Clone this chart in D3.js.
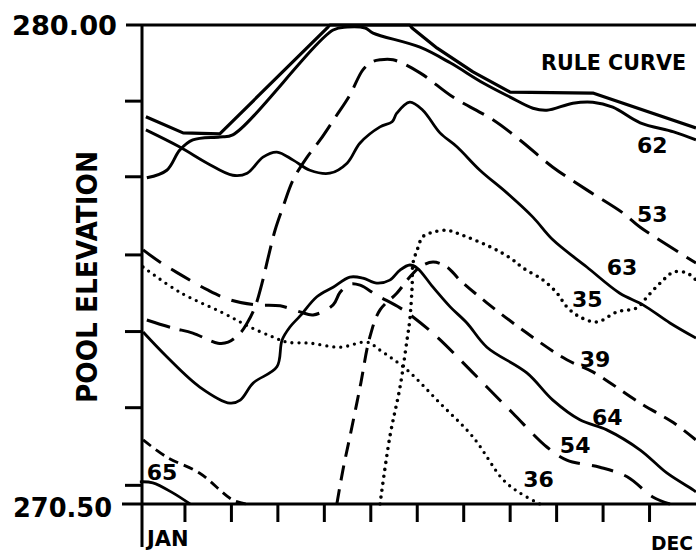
<!DOCTYPE html>
<html>
<head>
<meta charset="utf-8">
<script src="https://cdn.jsdelivr.net/npm/d3@7"></script>
<style>
body { margin: 0; background: #fff; }
svg { display: block; background: #fff; }
text { font-family: "DejaVu Sans", sans-serif; font-weight: bold; fill: #000; }
</style>
</head>
<body>
<svg width="696" height="553"></svg>
<script>
// each point: [months from start of JAN, pool elevation (ft)]
var ruleCurve = [[0.17,278.18],[0.97,277.86],[1.76,277.84],[4.09,279.96],[4.13,280.00],[5.85,280.00],[5.90,279.94],
	[6.44,279.54],[7.21,279.07],[8.01,278.67],[9.79,278.65],[12.01,277.96]];
var yr62 = [[0.19,276.97],[0.62,277.12],[0.90,277.52],[1.18,277.72],[1.76,277.78],[2.04,277.82],[4.20,279.90],[4.50,279.96],
	[4.89,279.94],[5.06,279.84],[6.07,279.56],[6.72,279.25],[7.43,278.85],[8.01,278.57],[8.50,278.35],[8.80,278.31],
	[9.36,278.45],[9.79,278.47],[10.22,278.37],[10.81,278.06],[11.53,277.88],[12.01,277.72]];
var yr63 = [[0.17,277.92],[0.90,277.58],[1.49,277.26],[2.04,277.02],[2.35,277.06],[2.69,277.38],[2.99,277.48],[3.34,277.32],
	[3.70,277.12],[4.13,277.06],[4.50,277.26],[4.78,277.66],[5.21,277.98],[5.47,278.08],[5.57,278.25],[5.85,278.47],
	[6.13,278.31],[6.50,277.86],[6.87,277.58],[7.36,277.12],[7.94,276.67],[8.50,276.19],[8.93,275.74],[9.66,275.20],
	[10.37,274.68],[10.87,274.45],[11.45,274.09],[12.01,273.79]];
var yr64 = [[0.11,273.91],[0.62,273.42],[1.33,272.82],[1.98,272.50],[2.20,272.56],[2.48,272.90],[2.99,273.22],[3.10,273.75],
	[3.27,274.01],[3.49,274.23],[3.85,274.61],[4.20,274.80],[4.56,275.00],[4.84,274.98],[5.14,274.88],[5.42,274.94],
	[5.64,275.14],[5.85,275.24],[6.01,275.18],[6.35,274.80],[6.72,274.41],[7.08,274.09],[7.51,273.61],[8.37,273.10],
	[8.93,272.56],[9.51,272.17],[10.09,271.97],[10.81,271.57],[11.39,271.11],[11.95,270.78],[12.01,270.74]];
var yrLow = [[0.04,270.94],[0.32,270.92],[0.75,270.72],[1.12,270.50]];
var yr53 = [[0.19,274.15],[0.75,273.99],[1.18,273.89],[1.72,273.69],[1.94,273.71],[2.20,273.89],[2.35,274.09],[2.52,274.41],
	[2.67,274.88],[2.80,275.38],[2.95,275.93],[3.12,276.39],[3.34,276.93],[3.64,277.38],[3.92,277.72],[4.24,278.16],
	[4.56,278.61],[4.84,279.11],[5.04,279.27],[5.21,279.31],[5.49,279.31],[6.07,279.05],[6.78,278.57],[7.64,278.12],
	[8.22,277.72],[8.93,277.18],[9.66,276.73],[10.44,276.27],[10.81,275.99],[12.01,275.28]];
var yr54 = [[0.11,275.54],[0.47,275.30],[0.97,275.02],[1.51,274.74],[1.98,274.55],[2.52,274.45],[3.06,274.43],[3.49,274.31],
	[3.77,274.25],[4.20,274.45],[4.35,274.70],[4.56,274.86],[4.78,274.84],[5.14,274.64],[5.64,274.39],[5.92,274.21],
	[6.44,273.81],[7.00,273.30],[7.51,272.82],[8.07,272.30],[8.80,271.63],[9.23,271.37],[9.94,271.23],[10.53,271.04],
	[11.08,270.64],[11.45,270.50]];
var yr39 = [[4.28,270.50],[4.41,271.17],[4.56,271.83],[4.78,272.82],[4.99,273.81],[5.21,274.35],[5.57,274.68],[5.85,275.00],
	[6.07,275.20],[6.35,275.30],[6.65,275.20],[6.93,274.94],[7.51,274.49],[8.37,273.89],[9.23,273.36],[9.79,273.12],
	[10.81,272.50],[11.53,272.11],[12.01,271.77]];
var yr65 = [[0.11,271.77],[0.62,271.43],[1.33,271.11],[2.04,270.58],[2.35,270.50]];
var yr35 = [[5.21,270.50],[5.42,271.83],[5.64,272.82],[5.79,273.75],[5.85,274.15],[5.90,274.80],[5.92,275.28],[6.01,275.54],
	[6.13,275.80],[6.35,275.89],[6.65,275.93],[6.87,275.87],[7.58,275.60],[8.01,275.38],[8.29,275.18],[8.72,274.94],
	[9.02,274.68],[9.23,274.41],[9.51,274.21],[9.88,274.11],[10.31,274.31],[10.74,274.39],[10.96,274.61],[11.24,274.88],
	[11.53,275.10],[11.82,275.08],[12.01,274.94]];
var yr36 = [[0.11,275.20],[0.90,274.70],[1.83,274.29],[2.41,274.01],[2.91,273.81],[3.21,273.71],[3.70,273.69],[4.35,273.61],
	[4.93,273.71],[5.21,273.55],[5.79,273.16],[6.50,272.50],[7.21,271.83],[7.86,270.98],[8.22,270.72],[8.65,270.50]];

var monthTicks = [1, 2, 3, 4, 5, 6, 7, 8, 9, 10, 11];
var elevTicks = [278.5, 277.0, 275.45, 273.93, 272.42, 270.88];
var elevLabels = ["280.00", "270.50"];
var monthLabels = ["JAN", "DEC"];

// curve name tags: [text, month, elevation]
var tags = [["62", 10.74, 277.46], ["53", 10.74, 276.09], ["63", 10.09, 275.04],
	["35", 9.34, 274.41], ["39", 9.51, 273.22], ["64", 9.77, 272.07], ["54", 9.08, 271.51], ["36", 8.29, 270.84],
	["65", 0.19, 270.98]];

var width = 696, height = 553;
var axisX = 142;

var svg = d3.select("svg");

var x = d3.scaleLinear().domain([0, 12]).range([138, 695.5]);
var y = d3.scaleLinear().domain([270.5, 280]).range([504, 25]);

//tick marks
svg.append("g")
	.attr("class", "xaxis")
	.attr("transform", "translate(0," + y(270.5) + ")")
	.call(d3.axisBottom(x).tickValues(monthTicks).tickSize(18).tickFormat(""));

svg.append("g")
	.attr("class", "yaxis")
	.attr("transform", "translate(" + axisX + ",0)")
	.call(d3.axisLeft(y).tickValues(elevTicks).tickSize(17).tickFormat(""));

svg.selectAll(".xaxis .domain, .yaxis .domain").remove();
svg.selectAll(".tick line").attr("stroke", "#000").attr("stroke-width", 3);

//frame lines
svg.append("line").attr("x1", 126).attr("x2", width).attr("y1", y(280)).attr("y2", y(280))
	.attr("stroke", "#000").attr("stroke-width", 3.2);
svg.append("line").attr("x1", 122).attr("x2", width).attr("y1", y(270.5)).attr("y2", y(270.5))
	.attr("stroke", "#000").attr("stroke-width", 3.2);
svg.append("line").attr("x1", axisX).attr("x2", axisX).attr("y1", y(280)).attr("y2", 547)
	.attr("stroke", "#000").attr("stroke-width", 3);

//curves
var smooth = d3.line()
	.x(function(d) { return x(d[0]); })
	.y(function(d) { return y(d[1]); })
	.curve(d3.curveCatmullRom.alpha(0.5));
var straight = d3.line()
	.x(function(d) { return x(d[0]); })
	.y(function(d) { return y(d[1]); });

var series = [
	{data: ruleCurve, line: straight, dash: null, w: 3.2},
	{data: yr62, line: smooth, dash: null, w: 3},
	{data: yr63, line: smooth, dash: null, w: 2.8},
	{data: yr64, line: smooth, dash: null, w: 2.8},
	{data: yrLow, line: smooth, dash: null, w: 2.8},
	{data: yr53, line: smooth, dash: "24,10", w: 3},
	{data: yr54, line: smooth, dash: "22,12", w: 3},
	{data: yr39, line: smooth, dash: "15,9", w: 3},
	{data: yr65, line: smooth, dash: "10,6", w: 2.8},
	{data: yr35, line: smooth, dash: "0,7", w: 3.6, round: true},
	{data: yr36, line: smooth, dash: "0,7", w: 3.3, round: true}
];

svg.selectAll(".curve")
	.data(series)
	.enter().append("path")
	.attr("class", "curve")
	.attr("d", function(s) { return s.line(s.data); })
	.attr("fill", "none")
	.attr("stroke", "#000")
	.attr("stroke-width", function(s) { return s.w; })
	.attr("stroke-linecap", function(s) { return s.round ? "round" : "butt"; })
	.attr("stroke-linejoin", "round")
	.attr("stroke-dasharray", function(s) { return s.dash; });

//labels
svg.selectAll(".tag")
	.data(tags)
	.enter().append("text")
	.attr("class", "tag")
	.attr("x", function(d) { return x(d[1]); })
	.attr("y", function(d) { return y(d[2]); })
	.style("font-size", "22px")
	.text(function(d) { return d[0]; });

svg.append("text")
	.attr("x", 541).attr("y", y(279.11))
	.attr("textLength", 145).attr("lengthAdjust", "spacingAndGlyphs")
	.style("font-size", "22px")
	.text("RULE CURVE");

svg.append("text")
	.attr("x", 12).attr("y", y(280) + 10)
	.attr("textLength", 105).attr("lengthAdjust", "spacingAndGlyphs")
	.style("font-size", "27px")
	.text(elevLabels[0]);

svg.append("text")
	.attr("x", 13).attr("y", y(270.5) + 13)
	.attr("textLength", 99).attr("lengthAdjust", "spacingAndGlyphs")
	.style("font-size", "27px")
	.text(elevLabels[1]);

svg.append("text")
	.attr("x", 147).attr("y", 546)
	.style("font-size", "21px")
	.text(monthLabels[0]);

svg.append("text")
	.attr("x", 651).attr("y", 550)
	.attr("textLength", 42).attr("lengthAdjust", "spacingAndGlyphs")
	.style("font-size", "19px")
	.text(monthLabels[1]);

svg.append("text")
	.attr("transform", "rotate(-90)")
	.attr("text-anchor", "middle")
	.attr("x", -277).attr("y", 97)
	.attr("textLength", 252).attr("lengthAdjust", "spacingAndGlyphs")
	.style("font-size", "29px")
	.text("POOL ELEVATION");
</script>
</body>
</html>
